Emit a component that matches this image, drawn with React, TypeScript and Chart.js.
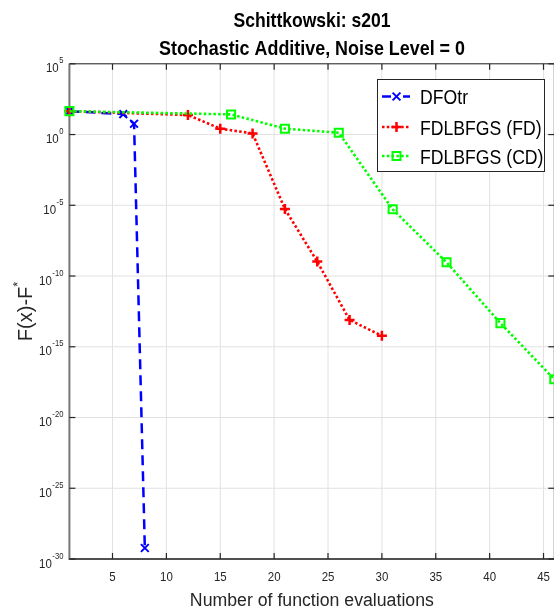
import React, { useEffect, useRef } from 'react';
import { Chart, registerables } from 'chart.js';

Chart.register(...registerables);

// ---------- data ----------
const TITLE_LINES = ['Schittkowski: s201', 'Stochastic Additive, Noise Level = 0'];
const X_LABEL = 'Number of function evaluations';
const Y_LABEL = 'F(x)-F';
const Y_LABEL_SUP = '*';
const X_TICKS = [5, 10, 15, 20, 25, 30, 35, 40, 45];
const Y_TICK_EXPONENTS = [5, 0, -5, -10, -15, -20, -25, -30];
const X_MIN = 1;
const X_MAX = 46;
const Y_MIN = 1e-30;
const Y_MAX = 1e5;

const SERIES_NAMES = ['DFOtr', 'FDLBFGS (FD)', 'FDLBFGS (CD)'];
const DFO_X = [1, 6, 7, 8];
const DFO_Y = [45, 28, 5.8, 6e-30];
const FD_X = [1, 12, 15, 18, 21, 24, 27, 30];
const FD_Y = [45, 24, 2.6, 1.2, 5.5e-6, 1.05e-9, 7.9e-14, 5.9e-15];
const CD_X = [1, 16, 21, 26, 31, 36, 41, 46];
const CD_Y = [45, 26.5, 2.6, 1.35, 5.2e-6, 9.3e-10, 4.7e-14, 5e-18];

// ---------- layout / style ----------
const CANVAS_W = 562;
const CANVAS_H = 614;
const FONT = '"Liberation Sans", Arial, Helvetica, sans-serif';
const BLUE = '#0000ff';
const RED = '#ff0000';
const GREEN = '#00ff00';
const DASH_BLUE = [10, 6];
const DOT = [2.5, 2.3];

function drawText(
  ctx: CanvasRenderingContext2D,
  s: string,
  x: number,
  y: number,
  size: number,
  opts: { bold?: boolean; align?: 'left' | 'center' | 'right'; sx?: number; width?: number; color?: string } = {}
) {
  ctx.save();
  ctx.font = `${opts.bold ? 'bold ' : ''}${size}px ${FONT}`;
  ctx.fillStyle = opts.color || '#000';
  ctx.textBaseline = 'alphabetic';
  ctx.textAlign = 'left';
  const raw = ctx.measureText(s).width;
  const sx = opts.width ? opts.width / raw : opts.sx ?? 1;
  const w = raw * sx;
  const align = opts.align || 'left';
  const x0 = align === 'center' ? x - w / 2 : align === 'right' ? x - w : x;
  ctx.translate(x0, y);
  ctx.scale(sx, 1);
  ctx.fillText(s, 0, 0);
  ctx.restore();
  return w;
}

function measure(ctx: CanvasRenderingContext2D, s: string, size: number, sx = 1) {
  ctx.save();
  ctx.font = `${size}px ${FONT}`;
  const w = ctx.measureText(s).width * sx;
  ctx.restore();
  return w;
}

function seg(ctx: CanvasRenderingContext2D, x1: number, y1: number, x2: number, y2: number) {
  ctx.beginPath();
  ctx.moveTo(x1, y1);
  ctx.lineTo(x2, y2);
  ctx.stroke();
}

function marker(ctx: CanvasRenderingContext2D, kind: string, x: number, y: number, color: string) {
  ctx.save();
  ctx.setLineDash([]);
  ctx.strokeStyle = color;
  if (kind === 'x') {
    ctx.lineWidth = 2;
    const r = 3.9;
    seg(ctx, x - r, y - r, x + r, y + r);
    seg(ctx, x - r, y + r, x + r, y - r);
  } else if (kind === '+') {
    ctx.lineWidth = 2.5;
    seg(ctx, x - 5, y, x + 5, y);
    seg(ctx, x, y - 5, x, y + 5);
  } else {
    ctx.lineWidth = 2;
    ctx.strokeRect(x - 4, y - 4, 8, 8);
  }
  ctx.restore();
}

const decorPlugin = {
  id: 'decor',
  beforeDatasetsDraw(chart: any) {
    const { ctx, chartArea: a, scales } = chart;
    const xs = scales.x;
    const ys = scales.y;
    ctx.save();
    // grid
    ctx.strokeStyle = '#e2e2e2';
    ctx.lineWidth = 1;
    for (const t of X_TICKS) {
      const px = xs.getPixelForValue(t);
      seg(ctx, px, a.top, px, a.bottom);
    }
    for (const e of Y_TICK_EXPONENTS) {
      const py = ys.getPixelForValue(Math.pow(10, e));
      seg(ctx, a.left, py, a.right, py);
    }
    // axes box
    ctx.strokeStyle = '#262626';
    ctx.lineWidth = 1;
    seg(ctx, a.left, a.top, a.right, a.top);
    seg(ctx, a.right, a.top, a.right, a.bottom);
    ctx.strokeStyle = '#777';
    ctx.lineWidth = 2;
    seg(ctx, a.left, a.top, a.left, a.bottom + 1);
    ctx.strokeStyle = '#505050';
    seg(ctx, a.left, a.bottom, a.right, a.bottom);
    // ticks
    ctx.strokeStyle = '#262626';
    ctx.lineWidth = 1.2;
    const TL = 6;
    for (const t of X_TICKS) {
      const px = xs.getPixelForValue(t);
      seg(ctx, px, a.bottom, px, a.bottom - TL);
      seg(ctx, px, a.top, px, a.top + TL);
    }
    for (const e of Y_TICK_EXPONENTS) {
      const py = ys.getPixelForValue(Math.pow(10, e));
      seg(ctx, a.left, py, a.left + TL, py);
      seg(ctx, a.right, py, a.right - TL, py);
    }
    ctx.restore();
  },
  afterDatasetsDraw(chart: any) {
    const { ctx, chartArea: a, scales } = chart;
    const xs = scales.x;
    const ys = scales.y;
    const TC = '#262626';
    // x tick labels
    for (const t of X_TICKS) {
      const px = xs.getPixelForValue(t);
      drawText(ctx, String(t), px, a.bottom + 21.5, 13.5, { align: 'center', sx: 0.85, color: TC });
    }
    // y tick labels 10^e
    const rightEdge = a.left - 6;
    for (const e of Y_TICK_EXPONENTS) {
      const py = ys.getPixelForValue(Math.pow(10, e));
      const ex = String(e);
      const wExp = measure(ctx, ex, 9, 0.85);
      drawText(ctx, ex, rightEdge - wExp, py - 0.5, 9, { sx: 0.85, color: TC });
      drawText(ctx, '10', rightEdge - wExp - 0.5, py + 8.5, 13.5, { align: 'right', sx: 0.85, color: TC });
    }
    // titles
    const cx = 312;
    drawText(ctx, TITLE_LINES[0], cx, 26.5, 21, { bold: true, align: 'center', width: 157 });
    drawText(ctx, TITLE_LINES[1], cx, 54.5, 21, { bold: true, align: 'center', width: 306 });
    // x label
    drawText(ctx, X_LABEL, (a.left + a.right) / 2, 606, 18, { align: 'center', width: 244, color: TC });
    // y label (rotated)
    ctx.save();
    const wMain = measure(ctx, Y_LABEL, 20);
    const wSup = measure(ctx, Y_LABEL_SUP, 13);
    const total = wMain + wSup;
    const cy = (a.top + a.bottom) / 2;
    ctx.translate(31.5, cy);
    ctx.rotate(-Math.PI / 2);
    drawText(ctx, Y_LABEL, -total / 2, 0, 20, { color: TC });
    drawText(ctx, Y_LABEL_SUP, -total / 2 + wMain, -10, 13, { color: TC });
    ctx.restore();
    // legend
    ctx.save();
    const L = { x: 377.5, y: 79.5, w: 167, h: 92 };
    ctx.fillStyle = '#fff';
    ctx.fillRect(L.x, L.y, L.w, L.h);
    ctx.strokeStyle = '#262626';
    ctx.lineWidth = 1;
    ctx.strokeRect(L.x, L.y, L.w, L.h);
    const rows = [96.5, 127, 156];
    const styles = [
      { color: BLUE, dash: DASH_BLUE, width: 2.5, mk: 'x' },
      { color: RED, dash: DOT, width: 2.6, mk: '+' },
      { color: GREEN, dash: DOT, width: 2.6, mk: 's' },
    ];
    rows.forEach((ry, i) => {
      const st = styles[i];
      ctx.save();
      ctx.strokeStyle = st.color;
      ctx.lineWidth = st.width;
      ctx.lineCap = 'butt';
      if (i === 0) {
        ctx.setLineDash([]);
        seg(ctx, 382, ry, 391, ry);
        seg(ctx, 403, ry, 410, ry);
      } else {
        ctx.setLineDash(st.dash);
        seg(ctx, 382, ry, 410, ry);
      }
      ctx.restore();
      marker(ctx, st.mk, 396.5, ry, st.color);
      drawText(ctx, SERIES_NAMES[i], 420, ry + 7.5, 21, { sx: 0.84 });
    });
    ctx.restore();
  },
};

function toPoints(xs: number[], ys: number[]) {
  return xs.map((x, i) => ({ x, y: ys[i] }));
}

export default function App() {
  const ref = useRef<HTMLCanvasElement | null>(null);
  useEffect(() => {
    if (!ref.current) return;
    const left = 69.4;
    const top = 63.8;
    const right = 556.8;
    const bottom = 559;
    const chart = new Chart(ref.current, {
      type: 'line',
      data: {
        datasets: [
          {
            label: SERIES_NAMES[0],
            data: toPoints(DFO_X, DFO_Y),
            borderColor: BLUE,
            backgroundColor: BLUE,
            borderWidth: 2.5,
            borderDash: DASH_BLUE,
            pointStyle: 'crossRot',
            pointRadius: 5.5,
            pointBorderWidth: 2,
            pointBorderColor: BLUE,
            fill: false,
            tension: 0,
            clip: false,
            order: 3,
          },
          {
            label: SERIES_NAMES[1],
            data: toPoints(FD_X, FD_Y),
            borderColor: RED,
            backgroundColor: RED,
            borderWidth: 2.6,
            borderDash: DOT,
            pointStyle: 'cross',
            pointRadius: 5,
            pointBorderWidth: 2.5,
            pointBorderColor: RED,
            fill: false,
            tension: 0,
            clip: false,
            order: 2,
          },
          {
            label: SERIES_NAMES[2],
            data: toPoints(CD_X, CD_Y),
            borderColor: GREEN,
            backgroundColor: 'rgba(0,0,0,0)',
            borderWidth: 2.6,
            borderDash: DOT,
            pointStyle: 'rect',
            pointRadius: 5.7,
            pointBorderWidth: 2,
            pointBorderColor: GREEN,
            pointBackgroundColor: 'rgba(0,0,0,0)',
            fill: false,
            tension: 0,
            clip: false,
            order: 1,
          },
        ],
      } as any,
      options: {
        responsive: false,
        animation: false,
        events: [],
        layout: {
          padding: { left, top, right: CANVAS_W - right, bottom: CANVAS_H - bottom },
        },
        plugins: {
          legend: { display: false },
          title: { display: false },
          tooltip: { enabled: false },
        },
        scales: {
          x: { type: 'linear', min: X_MIN, max: X_MAX, display: false },
          y: { type: 'logarithmic', min: Y_MIN, max: Y_MAX, display: false },
        },
      } as any,
      plugins: [decorPlugin],
    });
    return () => chart.destroy();
  }, []);
  return (
    <div
      style={{
        position: 'absolute',
        left: 0,
        top: 0,
        width: 554,
        height: 614,
        overflow: 'hidden',
        background: '#fff',
      }}
    >
      <canvas ref={ref} width={CANVAS_W} height={CANVAS_H} style={{ display: 'block', width: CANVAS_W, height: CANVAS_H }} />
    </div>
  );
}
